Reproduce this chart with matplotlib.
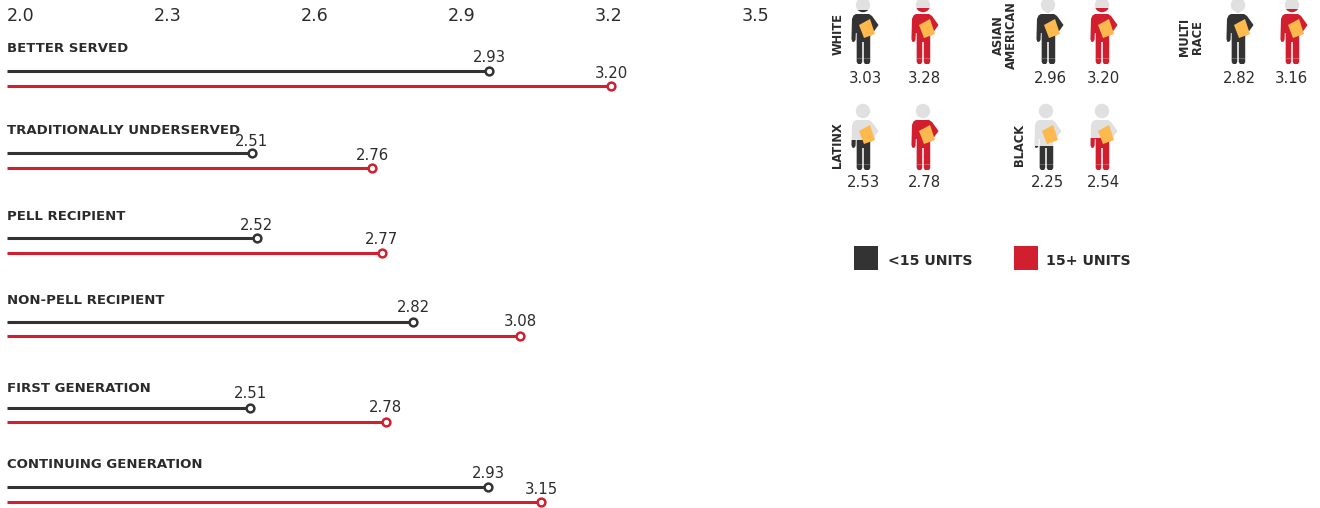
import matplotlib
matplotlib.use("Agg")
import matplotlib.pyplot as plt
from matplotlib.patches import Polygon, Circle, Rectangle

W, H = 1320, 508
DARK, RED, GREY, BOOK, INK = "#333333", "#d11f30", "#e0e0e0", "#fdb94d", "#2b2b2b"

# Left panel data
groups = ["BETTER SERVED", "TRADITIONALLY UNDERSERVED", "PELL RECIPIENT",
          "NON-PELL RECIPIENT", "FIRST GENERATION", "CONTINUING GENERATION"]
under15_drawn = [2.984, 2.500, 2.510, 2.829, 2.496, 2.982]
plus15_drawn = [3.233, 2.745, 2.765, 3.047, 2.773, 3.090]
under15_labels = ["2.93", "2.51", "2.52", "2.82", "2.51", "2.93"]
plus15_labels = ["3.20", "2.76", "2.77", "3.08", "2.78", "3.15"]
x_ticks = [2.0, 2.3, 2.6, 2.9, 3.2, 3.5]

# Right panel data
races = ["WHITE", "ASIAN\nAMERICAN", "MULTI\nRACE", "LATINX", "BLACK"]
race_under15 = ["3.03", "2.96", "2.82", "2.53", "2.25"]
race_plus15 = ["3.28", "3.20", "3.16", "2.78", "2.54"]
fill_under15 = [0.816, 0.793, 0.785, 0.453, 0.363]
fill_plus15 = [0.846, 0.846, 0.83, 0.755, 0.483]

PX_PER_UNIT = 490.0
X0 = 2.0 - 7 / PX_PER_UNIT

fig = plt.figure(figsize=(13.2, 5.08), dpi=100)
ax = fig.add_axes([0, 0, 1, 1])
ax.set_xlim(X0, X0 + W / PX_PER_UNIT)
ax.set_ylim(H, 0)
ax.axis("off")

px = fig.add_axes([0, 0, 1, 1], facecolor="none")
px.set_xlim(0, W)
px.set_ylim(H, 0)
px.axis("off")

NUM = dict(family="DejaVu Sans", color=INK, ha="center", va="center")
CAP = dict(family="DejaVu Sans", color=INK, fontweight="bold")

for t in x_ticks:
    ax.text(t, 16, f"{t:.1f}", family="DejaVu Sans", color=INK, fontsize=12.6, ha="left", va="center")

title_y = [48, 131, 216, 300, 388, 465]
dark_y = [71, 153, 238, 322, 408, 487]
red_y = [86, 168, 253, 336, 422, 502]
dark_label_y = [57, 141, 225, 308, 394, 473]
red_label_y = [73, 155, 239, 322, 408, 489]

for i, g in enumerate(groups):
    ax.text(2.0, title_y[i], g, fontsize=9.55, va="center", ha="left", **CAP)
    for vals, labs, ys, lys, c in ((under15_drawn, under15_labels, dark_y, dark_label_y, DARK),
                                   (plus15_drawn, plus15_labels, red_y, red_label_y, RED)):
        ax.plot([2.0, vals[i]], [ys[i], ys[i]], color=c, lw=2.2, solid_capstyle="butt", zorder=2)
        ax.plot([vals[i]], [ys[i]], "o", ms=5.6, mfc="white", mec=c, mew=1.8, zorder=3)
        ax.text(vals[i], lys[i], labs[i], fontsize=10.7, **NUM)

BODY = [(-7, 9), (6, 9), (9, 11), (15.5, 20), (8, 30.5), (7.2, 30), (7.2, 57), (6, 59), (2, 59), (0.8, 57),
        (0.8, 37), (-0.8, 37), (-0.8, 57), (-2, 59), (-5, 59), (-6.3, 57), (-6.3, 28), (-7.2, 28),
        (-7.5, 35), (-9, 37), (-10.8, 36.5), (-11.5, 34), (-11, 14), (-9.5, 10.5)]
BOOK_SHAPE = [(-4, 20), (7, 14), (12, 29), (1, 33)]
HEAD_R = 7.2
SPAN_TOP, SPAN_BOTTOM = -HEAD_R, 59


def person(cx, cy, frac, color):
    level = cy + SPAN_BOTTOM - frac * (SPAN_BOTTOM - SPAN_TOP)
    parts = [lambda: Circle((cx, cy), HEAD_R),
             lambda: Polygon([(cx + a, cy + b) for a, b in BODY], closed=True)]
    for make in parts:
        base = make()
        base.set(facecolor=GREY, edgecolor="none", zorder=4)
        px.add_patch(base)
        top = make()
        top.set(facecolor=color, edgecolor="none", zorder=5)
        px.add_patch(top)
        clip = Rectangle((cx - 30, level), 60, cy + SPAN_BOTTOM + 2 - level, transform=px.transData)
        top.set_clip_path(clip)
    px.add_patch(Polygon([(cx + a, cy + b) for a, b in BOOK_SHAPE], closed=True,
                         facecolor=BOOK, edgecolor="none", zorder=6))
    px.plot([cx - 6.3, cx + 7.2], [cy + 53, cy + 53], color="white", lw=0.5, alpha=0.35, zorder=6)


heads_dark = [(863, 5), (1048, 5), (1238, 5), (863, 111), (1046, 111)]
heads_red = [(923, 5), (1102, 5), (1292, 5), (923, 111), (1102, 111)]
val_dark = [(865, 78.5), (1050, 78.5), (1239, 78.5), (864, 182.5), (1047, 182.5)]
val_red = [(924, 78.5), (1103, 78.5), (1291, 78.5), (924, 182.5), (1103, 182.5)]
race_pos = [(838, 34), (1005, 35), (1191, 37), (838, 145), (1020, 145)]

for i, r in enumerate(races):
    person(*heads_dark[i], fill_under15[i], DARK)
    person(*heads_red[i], fill_plus15[i], RED)
    px.text(*val_dark[i], race_under15[i], fontsize=10.7, **NUM)
    px.text(*val_red[i], race_plus15[i], fontsize=10.7, **NUM)
    px.text(*race_pos[i], r, rotation=90, fontsize=8.3, ha="center", va="center",
            multialignment="center", linespacing=1.05, **CAP)

px.add_patch(Rectangle((854, 246), 24, 24, facecolor=DARK, edgecolor="none"))
px.add_patch(Rectangle((1014, 246), 24, 24, facecolor=RED, edgecolor="none"))
px.text(888, 261, "<15 UNITS", fontsize=10.2, va="center", ha="left", **CAP)
px.text(1046, 261, "15+ UNITS", fontsize=10.2, va="center", ha="left", **CAP)

fig.savefig("out.png", dpi=100, facecolor="white")
